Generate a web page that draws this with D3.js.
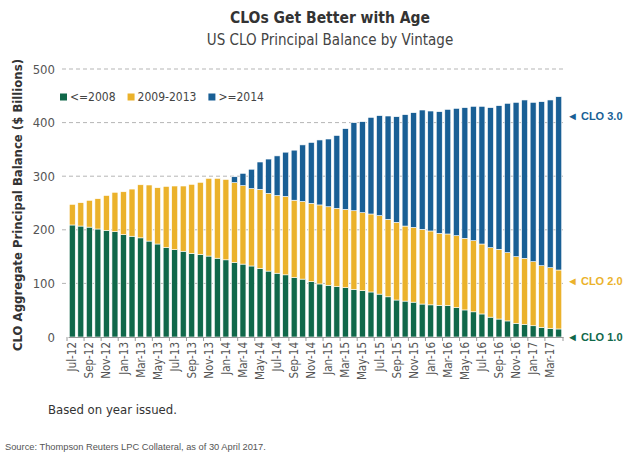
<!DOCTYPE html>
<html><head><meta charset="utf-8">
<script src="https://cdn.jsdelivr.net/npm/d3@7/dist/d3.min.js"></script>
<style>body{margin:0;background:#fff}svg{display:block}</style>
</head><body>
<svg id="c" width="640" height="457"></svg>
<script>
const months = ["Jul-12","Aug-12","Sep-12","Oct-12","Nov-12","Dec-12","Jan-13","Feb-13","Mar-13","Apr-13","May-13","Jun-13","Jul-13","Aug-13","Sep-13","Oct-13","Nov-13","Dec-13","Jan-14","Feb-14","Mar-14","Apr-14","May-14","Jun-14","Jul-14","Aug-14","Sep-14","Oct-14","Nov-14","Dec-14","Jan-15","Feb-15","Mar-15","Apr-15","May-15","Jun-15","Jul-15","Aug-15","Sep-15","Oct-15","Nov-15","Dec-15","Jan-16","Feb-16","Mar-16","Apr-16","May-16","Jun-16","Jul-16","Aug-16","Sep-16","Oct-16","Nov-16","Dec-16","Jan-17","Feb-17","Mar-17","Apr-17"];
// <=2008 vintage
const vintage2008 = [209,207,205,201.5,199,196.5,191,188,185,179,173.5,167,163,160,156,154,151,147,144,139,136,132.5,128,123,119,116,111,108,103.5,99,96.5,94,92,89,86.5,84,80,75,69,67,65,61.5,60,59,58.5,55,50.5,47,43,37,33.5,30,25.5,23.5,21,18,16,15];
// 2009-2013 vintage
const vintage2013 = [38.5,43.6,50,56.5,65,73.5,80,88,99,104.6,105,114,118.7,121.7,128.8,134.6,145,149,150,149,146.4,144.5,147.5,145,144.9,146.3,144.2,144.9,145.9,147.4,146.5,146,146,146.6,145.5,145.5,146.4,144.5,145,140,139.6,139.4,137.8,134.4,133.7,134,133.6,132.7,130.5,129.7,130.1,127.3,124.4,123.3,119.5,115,113.3,110];
// >=2014 vintage
const vintage2014 = [0,0,0,0,0,0,0,0,0,0,0,0,0,0,0,0,0,0,0,11,23,36,51,64,74,82.5,93.4,105.5,113.6,121.2,126.4,136,150.7,164.3,169.7,180.3,186.6,192.8,197,207.8,213.9,222.6,223.8,227,232.5,237.6,243.8,250.7,256.9,261.2,268,278.7,287.9,295.4,297.3,306,312.9,323.3];
const yTicks = [0,100,200,300,400,500];
const seriesNames = ["<=2008","2009-2013",">=2014"];
const seriesColors = ["#10684a","#ebb22b","#195f95"];
const cloLabels = ["CLO 1.0","CLO 2.0","CLO 3.0"];

const data = months.map((m,i)=>({month:m, a:vintage2008[i], b:vintage2013[i], c:vintage2014[i]}));
const keys = ["a","b","c"];
const stacked = d3.stack().keys(keys)(data);

const svg = d3.select("#c");
const font = "'DejaVu Sans Condensed','DejaVu Sans',sans-serif";
const x = d3.scaleBand().domain(months).range([68,563]).paddingInner(0.3).paddingOuter(0.15);
const y = d3.scaleLinear().domain([0,500]).range([337,69]);

// gridlines
svg.append("g").selectAll("line").data(yTicks.filter(d=>d>0)).join("line")
  .attr("x1",62).attr("x2",566).attr("y1",d=>y(d)).attr("y2",d=>y(d))
  .attr("stroke","#b5b5b5").attr("stroke-width",1).attr("stroke-dasharray","4,3");

// y tick labels
svg.append("g").selectAll("text").data(yTicks).join("text")
  .attr("x",55).attr("y",d=>y(d)).attr("dy","0.35em").attr("text-anchor","end")
  .attr("font-family",font).attr("font-size",13).attr("fill","#555").attr("font-weight",300)
  .text(d=>d);

// bars
svg.append("g").selectAll("g").data(stacked).join("g")
  .attr("fill",(d,i)=>seriesColors[i])
  .selectAll("rect").data(d=>d.filter(p=>p[1]-p[0]>0)).join("rect")
  .attr("x",d=>x(d.data.month)).attr("width",x.bandwidth())
  .attr("y",d=>y(d[1])).attr("height",d=>y(d[0])-y(d[1]))
  .attr("stroke","#fff").attr("stroke-width",0.6);

// x axis
const xAxis = d3.axisBottom(x).tickValues(months.filter((m,i)=>i%2===0)).tickSize(0).tickPadding(6);
const gx = svg.append("g").attr("transform","translate(0,337)").call(xAxis);
gx.select(".domain").attr("stroke","#999").attr("stroke-width",1);
gx.selectAll("text").attr("font-family",font).attr("font-size",11.5).attr("fill","#555")
  .attr("transform","rotate(-90)").attr("text-anchor","end").attr("x",-5).attr("y",0).attr("dy","0.35em");
// small tick marks at band edges
svg.append("g").selectAll("line").data(months.filter((m,i)=>i%2===0)).join("line")
  .attr("x1",d=>x(d)-x.step()*0.15-1).attr("x2",d=>x(d)-x.step()*0.15-1)
  .attr("y1",337).attr("y2",341).attr("stroke","#999");
svg.append("line").attr("x1",563).attr("x2",563).attr("y1",337).attr("y2",341).attr("stroke","#999");

// title
svg.append("text").attr("x",330).attr("y",23).attr("text-anchor","middle")
  .attr("font-family",font).attr("font-weight","bold").attr("font-size",15.5).attr("fill","#333")
  .text("CLOs Get Better with Age");
svg.append("text").attr("x",330).attr("y",45).attr("text-anchor","middle")
  .attr("font-family",font).attr("font-size",15).attr("fill","#444").attr("font-weight",300)
  .text("US CLO Principal Balance by Vintage");

// y axis title
svg.append("text").attr("transform","translate(22,205) rotate(-90)").attr("text-anchor","middle")
  .attr("font-family",font).attr("font-weight","bold").attr("font-size",13).attr("fill","#333")
  .text("CLO Aggregate Principal Balance ($ Billions)");

// legend (items laid out from measured text widths)
const legG = svg.append("g").attr("transform","translate(60,97)");
let lx = 0;
seriesNames.forEach((name,i)=>{
  const g = legG.append("g").attr("transform",`translate(${lx},0)`);
  g.append("rect").attr("x",0).attr("y",-3.5).attr("width",7).attr("height",7).attr("fill",seriesColors[i]);
  const t = g.append("text").attr("x",10).attr("y",0).attr("dy","0.35em")
    .attr("font-family",font).attr("font-size",12).attr("fill","#444").text(name);
  lx += 10 + t.node().getComputedTextLength() + 12;
});

// CLO labels at right
const last = data[data.length-1];
const tops = [last.a, last.a+last.b, last.a+last.b+last.c];
const offs = [8,11,19];
svg.append("g").selectAll("text").data(cloLabels).join("text")
  .attr("x",567).attr("y",(d,i)=>y(tops[i])+offs[i]).attr("dy","0.35em")
  .attr("font-family","'Liberation Sans',Arial,sans-serif").attr("font-weight","bold").attr("font-size",11)
  .attr("fill",(d,i)=>seriesColors[i]).text(d=>"\u25C4 "+d);

// footnotes
svg.append("text").attr("x",48).attr("y",414)
  .attr("font-family",font).attr("font-size",13).attr("fill","#333").text("Based on year issued.");
svg.append("text").attr("x",5).attr("y",450)
  .attr("font-family","'Liberation Sans',Arial,sans-serif").attr("font-size",9.3).attr("fill","#555")
  .text("Source: Thompson Reuters LPC Collateral, as of 30 April 2017.");
</script>
</body></html>
